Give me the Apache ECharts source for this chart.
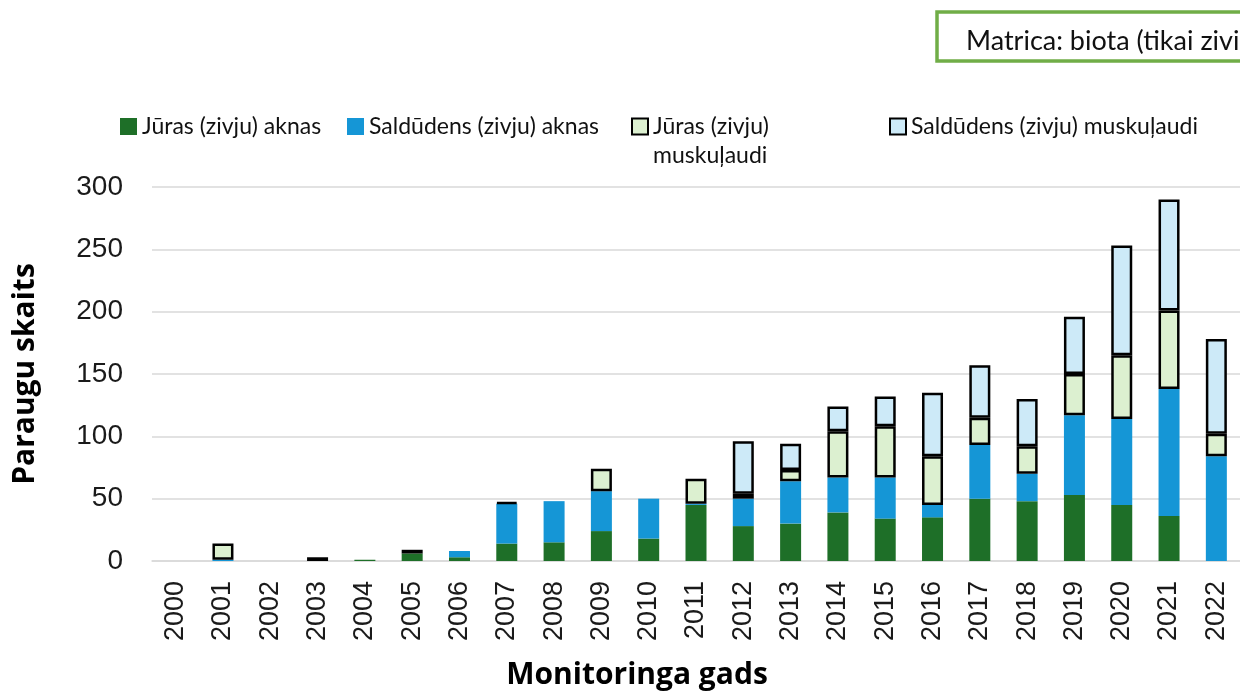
<!DOCTYPE html>
<html>
<head>
<meta charset="utf-8">
<script src="https://cdn.jsdelivr.net/npm/echarts@6/dist/echarts.min.js"></script>
<style>
html,body{margin:0;padding:0;background:#fff;}
#main{width:1240px;height:695px;}
</style>
</head>
<body>
<div id="main"></div>
<script>
const years = ['2000','2001','2002','2003','2004','2005','2006','2007','2008','2009','2010','2011','2012','2013','2014','2015','2016','2017','2018','2019','2020','2021','2022'];
const jurasAknas = [0,0,0,0,1,6,3,14,15,24,18,45,28,30,39,34,35,50,48,53,45,36,0];
const saldudensAknas = [0,1,0,0,0,0,5,32,33,32,32,1,22,34,28,33,10,43,22,64,69,102,84];
const jurasMuskulaudi = [null,13,null,3,null,3,null,1,null,18,null,20,4,9,37,41,39,22,22,33,51,63,18];
const saldudensMuskulaudi = [null,null,null,null,null,null,null,null,null,null,null,null,42,21,20,24,51,42,38,46,88,89,76];
const yTicks = [0,50,100,150,200,250,300];

const names = ['Jūras (zivju) aknas','Saldūdens (zivju) aknas','Jūras (zivju) muskuļaudi','Saldūdens (zivju) muskuļaudi'];
const colors = ['#1e6f28','#1596d6','#dcf0d0','#cdeaf8'];
const legendFont = {fontFamily:'Lato', fontSize:23, color:'#111', lineHeight:29};

const chart = echarts.init(document.getElementById('main'), null, {renderer:'canvas'});
function bar(i, data, bordered){
  return {
    name: names[i], type:'bar', stack:'total', data:data, barWidth:21,
    itemStyle: bordered ? {color:colors[i], borderColor:'#000', borderWidth:2.5} : {color:colors[i], borderWidth:0},
    emphasis:{disabled:true}
  };
}
chart.setOption({
  animation:false,
  backgroundColor:'#fff',
  grid:{left:152, top:187, width:1093, height:377, containLabel:false},
  legend:[
    {data:[names[0]], left:120, top:112, padding:0, itemWidth:17, itemHeight:17, icon:'rect', textStyle:legendFont, selectedMode:false},
    {data:[names[1]], left:347, top:112, padding:0, itemWidth:17, itemHeight:17, icon:'rect', textStyle:legendFont, selectedMode:false},
    {data:[names[2]], left:631, top:83, padding:0, itemWidth:16, itemHeight:16, icon:'rect', selectedMode:false,
     formatter:function(){return '{e|}\n{a|Jūras (zivju)}\n{a|muskuļaudi}';},
     textStyle:Object.assign({}, legendFont, {rich:{e:{height:29, lineHeight:29, fontSize:23, fontFamily:'Lato'}, a:{fontFamily:'Lato', fontSize:23, lineHeight:29, color:'#111'}}})},
    {data:[names[3]], left:889, top:112, padding:0, itemWidth:16, itemHeight:16, icon:'rect', textStyle:legendFont, selectedMode:false}
  ],
  xAxis:{
    type:'category', data:years,
    axisLine:{show:true, lineStyle:{color:'#d9d9d9', width:1.5}},
    axisTick:{show:false},
    axisLabel:{rotate:90, margin:20, fontFamily:'Liberation Sans', fontSize:27, color:'#1a1a1a', interval:0},
    name:'Monitoringa gads', nameLocation:'middle', nameGap:99,
    nameTextStyle:{fontFamily:'Open Sans', fontWeight:'bold', fontSize:30, color:'#000', padding:[0,118,0,0]}
  },
  yAxis:{
    type:'value', min:yTicks[0], max:yTicks[yTicks.length-1], interval:50,
    axisLine:{show:false}, axisTick:{show:false},
    splitLine:{lineStyle:{color:'#d9d9d9', width:1.5}},
    axisLabel:{margin:29, fontFamily:'Liberation Sans', fontSize:28, color:'#1a1a1a'},
    name:'Paraugu skaits', nameLocation:'middle', nameGap:112, nameRotate:90,
    nameTextStyle:{fontFamily:'Open Sans', fontWeight:'bold', fontSize:30, color:'#000'}
  },
  series:[
    bar(0, jurasAknas, false),
    bar(1, saldudensAknas, false),
    bar(2, jurasMuskulaudi, true),
    bar(3, saldudensMuskulaudi, true)
  ],
  graphic:[
    {type:'rect', shape:{x:937, y:12, width:400, height:49}, style:{fill:'#fff', stroke:'#70ad47', lineWidth:3.5}, silent:true},
    {type:'text', x:966, y:41, style:{text:'Matrica: biota (tikai zivis)', fontFamily:'Lato', fontSize:27, fill:'#111', verticalAlign:'middle'}, silent:true}
  ]
});
</script>
</body>
</html>
